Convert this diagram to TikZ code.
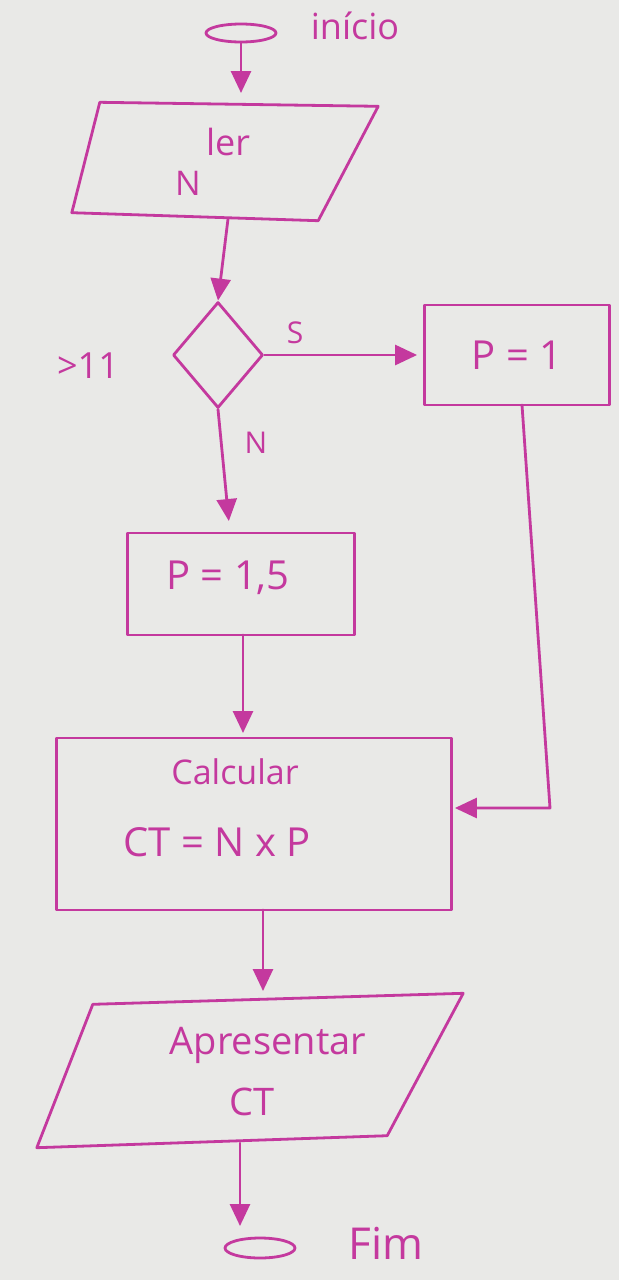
\documentclass[tikz,border=0pt]{standalone}
\usepackage{fontspec}
\setmainfont{Open Sans}
\usetikzlibrary{shapes.geometric,arrows.meta,calc}
\definecolor{ink}{HTML}{C4399E}
\definecolor{paper}{HTML}{E9E9E7}
\tikzset{
  ink/.style={draw=ink, line width=2.8pt, line join=round, line cap=round},
  arr/.style={ink, -{Triangle[length=22pt,width=20pt]}},
  txt/.style={text=ink, inner sep=0pt},
  box/.style={ink, rectangle, inner sep=0pt},
  hold/.style={draw=none, inner sep=0pt}
}
\begin{document}
\begin{tikzpicture}[x=1pt,y=-1pt]
\fill[paper] (0,0) rectangle (619,1280);
\useasboundingbox (0,0) rectangle (619,1280);

% start
\node[ink, ellipse, minimum width=70pt, minimum height=18pt, inner sep=0pt] (start) at (241,33) {};
\node[txt, font=\fontsize{36}{40}\selectfont] (inicio) at (355,26) {início};

% ler N
\node[hold, minimum width=272pt, minimum height=113pt] (ler) at (222,160) {};
\draw[ink] ($(ler.north west)+(14,-1)$) -- ($(ler.north east)+(20,3)$) -- ($(ler.south east)+(-40,4)$) -- ($(ler.south west)+(-14,-4)$) -- cycle;
\node[txt, font=\fontsize{36}{40}\selectfont] (lerT) at (228,142) {ler};
\node[txt, font=\fontsize{34}{40}\selectfont] (lerN) at (188,183) {N};

% decision
\node[ink, diamond, minimum width=90pt, minimum height=106pt, inner sep=0pt] (dec) at (218,355) {};
\node[txt, font=\fontsize{36}{40}\selectfont] (gt) at (88,366) {>11};
\node[txt, font=\fontsize{30}{34}\selectfont] (s) at (295,333) {S};
\node[txt, font=\fontsize{30}{34}\selectfont] (n) at (256,443) {N};

% P = 1
\node[box, minimum width=185pt, minimum height=100pt] (p1) at (517,355) {};
\node[txt, font=\fontsize{40}{44}\selectfont] at (p1) {P = 1};

% P = 1,5
\node[box, minimum width=227pt, minimum height=102pt] (p15) at (241,584) {};
\node[txt, font=\fontsize{40}{44}\selectfont] at (228,578) {P = 1,5};

% calcular
\node[box, minimum width=395pt, minimum height=172pt] (calc) at (254,824) {};
\node[txt, font=\fontsize{34}{40}\selectfont] (calcT) at (235,772) {Calcular};
\node[txt, font=\fontsize{40}{44}\selectfont] (calcF) at (217,842) {CT = N x P};

% apresentar
\node[hold, minimum width=370pt, minimum height=143pt] (apr) at (250,1070) {};
\draw[ink] ($(apr.north west)+(28,6)$) -- ($(apr.north east)+(28,-5)$) -- ($(apr.south east)+(-48,-6)$) -- ($(apr.south west)+(-28,6)$) -- cycle;
\node[txt, font=\fontsize{38}{42}\selectfont] (aprT) at (268,1045) {Apresentar};
\node[txt, font=\fontsize{38}{42}\selectfont] (aprC) at (252,1102) {CT};

% end
\node[ink, ellipse, minimum width=70pt, minimum height=20pt, inner sep=0pt] (end) at (260,1248) {};
\node[txt, font=\fontsize{44}{48}\selectfont] (fim) at (386,1243) {Fim};

% connectors
\draw[arr, shorten >=10pt] (start.south) -- (241,103);
\draw[arr] (228,219) -- (dec.north);
\draw[arr, shorten >=6pt] (dec.east) -- (p1.west |- dec.east);
\draw[arr, shorten >=12pt] (dec.south) -- (230,533);
\draw[arr, shorten >=5pt] (243,635) -- (243,738);
\coordinate (c1) at (550,808);
\draw[arr, shorten >=2pt] (522,405) -- (c1) -- (calc.east |- c1);
\draw[arr, shorten >=8pt] (263,910) -- (263,999);
\draw[arr, shorten >=12pt] (240,1143) -- (240,1238);
\end{tikzpicture}
\end{document}
